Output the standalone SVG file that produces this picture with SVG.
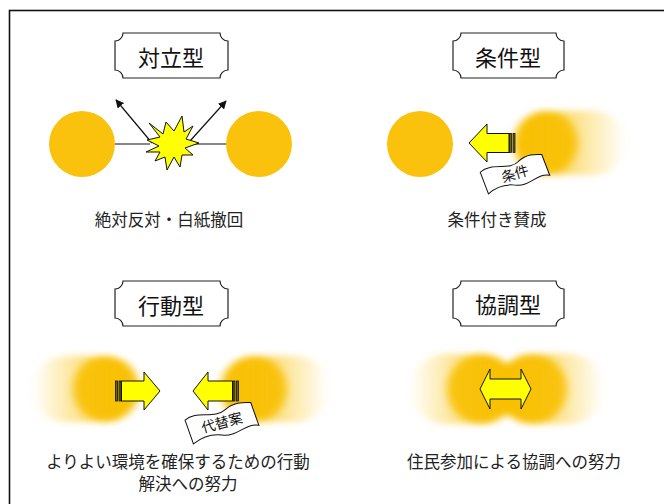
<svg xmlns="http://www.w3.org/2000/svg" width="664" height="504" viewBox="0 0 664 504">
  <defs>
    <style>
      .plaque { fill: #fff; stroke: #222; stroke-width: 1.2; }
      .title { font-family: "Noto Sans CJK JP", "Noto Sans", sans-serif; font-size: 22px; fill: #111; text-anchor: middle; }
      .caption { font-family: "Noto Sans CJK JP", "Noto Sans", sans-serif; font-size: 16.5px; fill: #222; text-anchor: middle; }
      .flagtext { font-family: "Noto Sans CJK JP", "Noto Sans", sans-serif; font-size: 14px; fill: #111; text-anchor: middle; }
      .ball { fill: #FAC20C; }
      .arrow { fill: #FFFF00; stroke: #111; stroke-width: 1; stroke-linejoin: miter; }
      .stripe { fill: #6E6A00; stroke: #111; stroke-width: 0.8; }
      .flag { fill: #fff; stroke: #111; stroke-width: 1; }
      .link { stroke: #111; stroke-width: 1.2; fill: none; }
    </style>
    <marker id="head" viewBox="0 0 10 10" refX="9" refY="5" markerWidth="7" markerHeight="7" orient="auto">
      <path d="M0,0 L10,5 L0,10 Z" fill="#111"/>
    </marker>
    <filter id="soft" x="-30%" y="-40%" width="160%" height="180%">
      <feGaussianBlur stdDeviation="4 3"/>
    </filter>
    <linearGradient id="trailR" x1="0" y1="0" x2="1" y2="0">
      <stop offset="0" stop-color="#F8C000" stop-opacity="0.95"/>
      <stop offset="0.45" stop-color="#F8C000" stop-opacity="0.55"/>
      <stop offset="1" stop-color="#F8C000" stop-opacity="0"/>
    </linearGradient>
    <linearGradient id="trailL" x1="1" y1="0" x2="0" y2="0">
      <stop offset="0" stop-color="#F8C000" stop-opacity="0.95"/>
      <stop offset="0.45" stop-color="#F8C000" stop-opacity="0.55"/>
      <stop offset="1" stop-color="#F8C000" stop-opacity="0"/>
    </linearGradient>
  </defs>

  <rect width="664" height="504" fill="#fff"/>
  <!-- frame: top and left edges -->
  <rect x="9.5" y="10.5" width="700" height="520" fill="none" stroke="#111" stroke-width="1.6"/>

  <!-- ===== 対立型 ===== -->
  <g id="title-confront">
    <path class="plaque" d="M123,33 L220,33 A8,8 0 0 0 228,41 L228,70 A8,8 0 0 0 220,78 L123,78 A8,8 0 0 0 115,70 L115,41 A8,8 0 0 0 123,33 Z"/>
    <text class="title" x="171" y="66">対立型</text>
  </g>
  <g id="connectors-confront">
    <line class="link" x1="115" y1="144" x2="150" y2="144"/>
    <line class="link" x1="194" y1="144" x2="227" y2="144"/>
    <line class="link" x1="152" y1="143" x2="116" y2="100" marker-end="url(#head)"/>
    <line class="link" x1="190" y1="141" x2="226" y2="101" marker-end="url(#head)"/>
  </g>
  <g id="party-a1"><circle class="ball" cx="82" cy="144" r="33"/></g>
  <g id="party-b1"><circle class="ball" cx="259" cy="144" r="33"/></g>
  <g id="clash">
    <polygon points="182,116 184,132 193,126 186,139 199,143 185,148 193,155 182,155 180,167 174,157 167,170 165,157 155,161 160,152 146,152 159,146 147,140 160,137 149,123 163,134 166,122 174,131" fill="#FFFF00" stroke="#111" stroke-width="1"/>
  </g>
  <text class="caption" x="169" y="226">絶対反対・白紙撤回</text>

  <!-- ===== 条件型 ===== -->
  <g id="title-condition">
    <path class="plaque" d="M461,33 L556,33 A8,8 0 0 0 564,41 L564,70 A8,8 0 0 0 556,78 L461,78 A8,8 0 0 0 453,70 L453,41 A8,8 0 0 0 461,33 Z"/>
    <text class="title" x="508" y="66">条件型</text>
  </g>
  <g id="party-a2"><circle class="ball" cx="420" cy="144" r="33"/></g>
  <g id="party-b2" filter="url(#soft)">
    <rect x="514" y="111" width="112" height="64" rx="32" fill="url(#trailR)"/>
    <circle cx="546" cy="143" r="32" fill="#F8C000" opacity="0.9"/>
  </g>
  <g id="push-condition">
    <polygon class="arrow" points="469,143 487,124 487,133.5 509,133.5 509,152.5 487,152.5 487,162"/>
    <rect class="stripe" x="509.5" y="133.5" width="2" height="19"/>
    <rect class="stripe" x="513" y="133.5" width="2" height="19"/>
  </g>
  <g id="flag-condition" transform="translate(514,174) rotate(-16)">
    <path class="flag" d="M-32,-11 C-18,-18 -4,-4 8,-11 C18,-16 26,-13 32,-11 L34,11 C22,5 12,17 -2,11 C-14,6 -24,9 -30,12 Z"/>
    <text class="flagtext" x="1" y="5">条件</text>
  </g>
  <text class="caption" x="497" y="226">条件付き賛成</text>

  <!-- ===== 行動型 ===== -->
  <g id="title-action">
    <path class="plaque" d="M123,281 L220,281 A8,8 0 0 0 228,289 L228,318 A8,8 0 0 0 220,326 L123,326 A8,8 0 0 0 115,318 L115,289 A8,8 0 0 0 123,281 Z"/>
    <text class="title" x="171" y="314">行動型</text>
  </g>
  <g id="party-a3" filter="url(#soft)">
    <rect x="32" y="356" width="107" height="66" rx="33" fill="url(#trailL)"/>
    <circle cx="106" cy="389" r="33" fill="#F8C000" opacity="0.9"/>
  </g>
  <g id="party-b3" filter="url(#soft)">
    <rect x="221" y="356" width="108" height="66" rx="33" fill="url(#trailR)"/>
    <circle cx="254" cy="389" r="33" fill="#F8C000" opacity="0.9"/>
  </g>
  <g id="push-action-left">
    <rect class="stripe" x="115.5" y="381" width="2" height="20"/>
    <rect class="stripe" x="119" y="381" width="2" height="20"/>
    <polygon class="arrow" points="121.5,381 144,381 144,372 160,391 144,410 144,401 121.5,401"/>
  </g>
  <g id="push-action-right">
    <polygon class="arrow" points="193,391 208,372 208,381 232.5,381 232.5,401 208,401 208,410"/>
    <rect class="stripe" x="233" y="381" width="2" height="20"/>
    <rect class="stripe" x="236.5" y="381" width="2" height="20"/>
  </g>
  <g id="flag-action" transform="translate(221,423) rotate(-15)">
    <path class="flag" d="M-34,-12 C-20,-19 -6,-5 8,-12 C18,-17 27,-14 34,-12 L36,12 C24,6 12,18 -2,12 C-14,7 -25,10 -32,13 Z"/>
    <text class="flagtext" x="1" y="5">代替案</text>
  </g>
  <text class="caption" x="178" y="468">よりよい環境を確保するための行動</text>
  <text class="caption" x="188" y="490">解決への努力</text>

  <!-- ===== 協調型 ===== -->
  <g id="title-cooperate">
    <path class="plaque" d="M461,281 L556,281 A8,8 0 0 0 564,289 L564,318 A8,8 0 0 0 556,326 L461,326 A8,8 0 0 0 453,318 L453,289 A8,8 0 0 0 461,281 Z"/>
    <text class="title" x="508" y="313">協調型</text>
  </g>
  <g id="parties-cooperate" filter="url(#soft)">
    <rect x="410" y="354" width="107" height="70" rx="35" fill="url(#trailL)"/>
    <rect x="497" y="354" width="107" height="70" rx="35" fill="url(#trailR)"/>
    <circle cx="482" cy="389" r="35" fill="#F8C000" opacity="0.9"/>
    <circle cx="532" cy="389" r="35" fill="#F8C000" opacity="0.9"/>
  </g>
  <g id="link-cooperate">
    <polygon class="arrow" points="480,389 490,369 490,379 521,379 521,369 531,389 521,409 521,399 490,399 490,409"/>
  </g>
  <text class="caption" x="514" y="468">住民参加による協調への努力</text>
</svg>
